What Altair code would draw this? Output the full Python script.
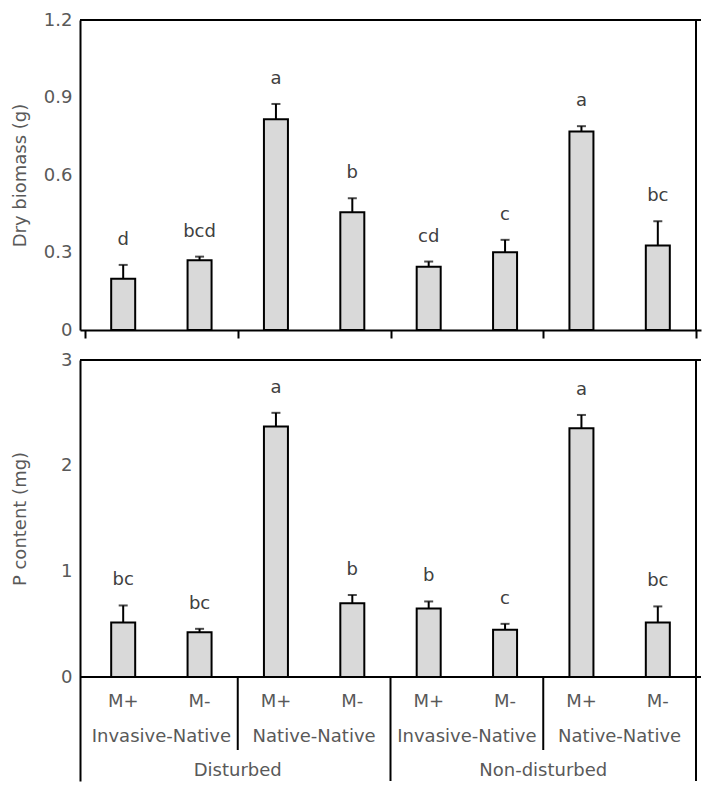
import altair as alt
import pandas as pd
import numpy as np

# ---- data ----
disturbance = ["Disturbed"] * 4 + ["Non-disturbed"] * 4
community = ["Invasive-Native", "Invasive-Native", "Native-Native", "Native-Native"] * 2
mycorrhiza = ["M+", "M-"] * 4

biomass = [0.198, 0.270, 0.816, 0.456, 0.245, 0.301, 0.768, 0.327]
biomass_se = [0.054, 0.014, 0.059, 0.054, 0.020, 0.048, 0.021, 0.094]
biomass_letters = ["d", "bcd", "a", "b", "cd", "c", "a", "bc"]

p_content = [0.515, 0.424, 2.37, 0.697, 0.649, 0.446, 2.355, 0.516]
p_se = [0.162, 0.032, 0.130, 0.079, 0.066, 0.057, 0.125, 0.152]
p_letters = ["bc", "bc", "a", "b", "b", "c", "a", "bc"]

bio_ticks = [0, 0.3, 0.6, 0.9, 1.2]
p_ticks = [0, 1, 2, 3]

# ---- tables ----
n = len(biomass)
df = pd.DataFrame({
    "disturbance": disturbance,
    "community": community,
    "myc": mycorrhiza,
    "bio": biomass,
    "bio_se": biomass_se,
    "bio_let": biomass_letters,
    "p": p_content,
    "p_se": p_se,
    "p_let": p_letters,
})
df["pos"] = np.arange(n) + 0.5
df["bio_top"] = df["bio"] + df["bio_se"]
df["p_top"] = df["p"] + df["p_se"]

lvl2 = df.groupby(["disturbance", "community"], sort=False)["pos"].agg(["mean", "min"]).reset_index()
lvl3 = df.groupby("disturbance", sort=False)["pos"].agg(["mean", "min"]).reset_index()
comm_edges = list(lvl2["min"] - 0.5)
dist_edges = list(lvl3["min"] - 0.5)
all_edges = sorted(set(comm_edges) | set(dist_edges) | {float(n)})
short_edges = pd.DataFrame({"edge": [e for e in comm_edges if e not in dist_edges]})
long_edges = pd.DataFrame({"edge": [e for e in dist_edges if e > 0]})
right_edge = pd.DataFrame({"edge": [float(n)]})

# ---- layout / style ----
W = 621
TOP_H = 310
BOT_H = 317
EXT = 104
FONT = "DejaVu Sans"
TXT = "#595959"
LET = "#404040"
FS = 18
BAR_FILL = "#d9d9d9"
TITLE_X = -69

xs = alt.Scale(domain=[0, n], nice=False, zero=False)
x_edge = alt.X("edge:Q", scale=xs, axis=None)

# ---- top panel ----
top_x_axis = alt.Axis(
    values=all_edges, labels=False, ticks=True, tickSize=8, tickWidth=2,
    tickColor="black", domain=True, domainColor="black", domainWidth=2,
    grid=False, title=None)
x_top = alt.X("pos:Q", scale=xs, axis=top_x_axis)
y_top_scale = alt.Scale(domain=[0, bio_ticks[-1]], nice=False, zero=False)
y_top = alt.Y("bio:Q", scale=y_top_scale, axis=alt.Axis(
    values=bio_ticks, format=".1~f", ticks=False, tickSize=0, labelPadding=8,
    domain=True, domainColor="black", domainWidth=2, grid=False,
    title="Dry biomass (g)", titleX=TITLE_X, titleBaseline="top"))

tb = alt.Chart(df)
top_err = tb.mark_rule(color="black", strokeWidth=2).encode(
    x=x_top, y=y_top, y2="bio_top:Q")
top_bar = tb.mark_bar(size=24, fill=BAR_FILL, stroke="black", strokeWidth=2).encode(
    x=x_top, y=y_top, y2=alt.datum(0))
top_cap = tb.mark_tick(orient="horizontal", size=9, thickness=2, color="black").encode(
    x=x_top, y=alt.Y("bio_top:Q", scale=y_top_scale))
top_txt = tb.mark_text(dy=-20, baseline="alphabetic", font=FONT, fontSize=FS, color=LET).encode(
    x=x_top, y=alt.Y("bio_top:Q", scale=y_top_scale), text="bio_let:N")

one = alt.Chart(df.head(1))
top_border = one.mark_rule(color="black", strokeWidth=2).encode(y=alt.datum(bio_ticks[-1]))
top_right = alt.Chart(right_edge).mark_rule(color="black", strokeWidth=2).encode(
    x=alt.X("edge:Q", scale=xs, axis=top_x_axis))

top = alt.layer(top_err, top_bar, top_cap, top_txt, top_border, top_right).properties(
    width=W, height=TOP_H)

# ---- bottom panel (with category label area below zero) ----
lo = -p_ticks[-1] * EXT / BOT_H
HB = BOT_H + EXT
x_b = alt.X("pos:Q", scale=xs, axis=None)
y_b_scale = alt.Scale(domain=[lo, p_ticks[-1]], nice=False, zero=False)
y_b = alt.Y("p:Q", scale=y_b_scale, axis=alt.Axis(
    values=p_ticks, format="d", ticks=False, tickSize=0, labelPadding=8,
    domain=True, domainColor="black", domainWidth=2, grid=False,
    title="P content (mg)", titleX=TITLE_X, titleY=BOT_H / 2, titleBaseline="top"))

bb = alt.Chart(df)
b_err = bb.mark_rule(color="black", strokeWidth=2).encode(x=x_b, y=y_b, y2="p_top:Q")
b_bar = bb.mark_bar(size=24, fill=BAR_FILL, stroke="black", strokeWidth=2).encode(
    x=x_b, y=y_b, y2=alt.datum(0))
b_cap = bb.mark_tick(orient="horizontal", size=9, thickness=2, color="black").encode(
    x=x_b, y=alt.Y("p_top:Q", scale=y_b_scale))
b_txt = bb.mark_text(dy=-20, baseline="alphabetic", font=FONT, fontSize=FS, color=LET).encode(
    x=x_b, y=alt.Y("p_top:Q", scale=y_b_scale), text="p_let:N")

zero_line = one.mark_rule(color="black", strokeWidth=2).encode(y=alt.datum(0))
b_border = one.mark_rule(color="black", strokeWidth=2).encode(y=alt.datum(p_ticks[-1]))
b_right = alt.Chart(right_edge).mark_rule(color="black", strokeWidth=2).encode(x=x_edge)

lab1 = bb.mark_text(dy=25, baseline="middle", font=FONT, fontSize=FS, color=TXT).encode(
    x=x_b, y=alt.datum(0), text="myc:N")
lab2 = alt.Chart(lvl2).mark_text(dy=60, baseline="middle", font=FONT, fontSize=FS, color=TXT).encode(
    x=alt.X("mean:Q", scale=xs, axis=None), y=alt.datum(0), text="community:N")
lab3 = alt.Chart(lvl3).mark_text(dy=94, baseline="middle", font=FONT, fontSize=FS, color=TXT).encode(
    x=alt.X("mean:Q", scale=xs, axis=None), y=alt.datum(0), text="disturbance:N")

sep_short = alt.Chart(short_edges).mark_rule(color="black", strokeWidth=2).encode(
    x=x_edge, y=alt.datum(0), y2=alt.value(BOT_H + 73))
sep_long = alt.Chart(long_edges).mark_rule(color="black", strokeWidth=2).encode(
    x=x_edge, y=alt.datum(0), y2=alt.value(HB))

bottom = alt.layer(b_err, b_bar, b_cap, b_txt, zero_line, b_border, b_right,
                   lab1, lab2, lab3, sep_short, sep_long).properties(
    width=W, height=HB)

chart = alt.vconcat(top, bottom, spacing=30, bounds="flush").properties(
    padding={"left": 3, "top": 3, "right": 0, "bottom": 0}
).configure_view(
    strokeWidth=0
).configure_axis(
    labelFont=FONT, titleFont=FONT, labelFontSize=FS, titleFontSize=FS,
    labelColor=TXT, titleColor=TXT, titleFontWeight="normal"
)

chart.save("out.html", embed_options={"renderer": "svg", "actions": False})
